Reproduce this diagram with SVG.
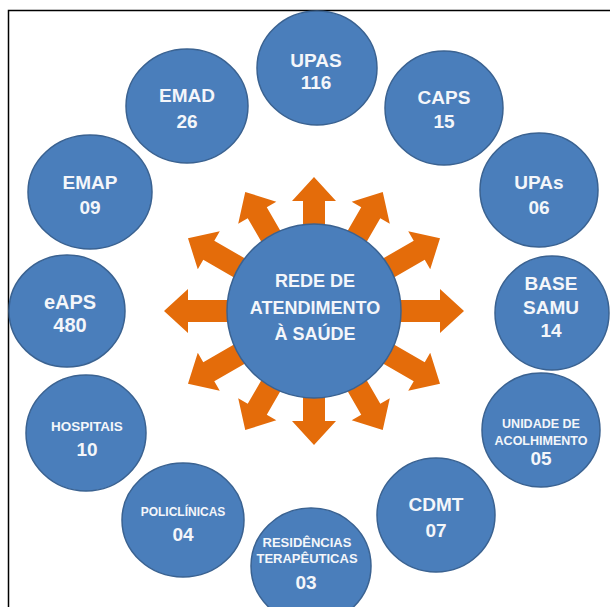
<svg xmlns="http://www.w3.org/2000/svg" xmlns:xlink="http://www.w3.org/1999/xlink" width="610" height="607" viewBox="0 0 610 607">
<style>
.bg{fill:#ffffff}
.frame{fill:none;stroke:#000;stroke-width:1.5}
.node{fill:#4A7EBB;stroke:#3A6291;stroke-width:1.5}
.arrow{fill:#E46C0A}
text{font-family:"Liberation Sans",Arial,sans-serif;font-weight:bold;fill:#F4F6FA;text-anchor:middle}
.big{font-size:19px}
.sm{font-size:12.5px}
.ctr{font-size:18px}
</style>
<defs>
<polygon id="a0" points="0,-11 126,-11 126,-22 150,0 126,22 126,11 0,11"/>
<polygon id="a30" points="0,-11 121.5,-11 121.5,-22 145.5,0 121.5,22 121.5,11 0,11"/>
<polygon id="a60" points="0,-11 113.5,-11 113.5,-22 137.5,0 113.5,22 113.5,11 0,11"/>
<polygon id="a90" points="0,-11 110,-11 110,-22 134,0 110,22 110,11 0,11"/>
</defs>
<rect class="bg" x="0" y="0" width="610" height="607"/>
<rect class="frame" x="8.5" y="10.5" width="610" height="610"/>

<g id="connectors" class="arrow" transform="translate(314 311)">
<use xlink:href="#a0" transform="rotate(0)"/>
<use xlink:href="#a30" transform="rotate(-30)"/>
<use xlink:href="#a60" transform="rotate(-60)"/>
<use xlink:href="#a90" transform="rotate(-90)"/>
<use xlink:href="#a60" transform="rotate(-120)"/>
<use xlink:href="#a30" transform="rotate(-150)"/>
<use xlink:href="#a0" transform="rotate(180)"/>
<use xlink:href="#a30" transform="rotate(150)"/>
<use xlink:href="#a60" transform="rotate(120)"/>
<use xlink:href="#a90" transform="rotate(90)"/>
<use xlink:href="#a60" transform="rotate(60)"/>
<use xlink:href="#a30" transform="rotate(30)"/>
</g>

<g id="center">
<circle class="node" cx="314" cy="311" r="87"/>
<text class="ctr" x="315" y="287">REDE DE</text>
<text class="ctr" x="315" y="314">ATENDIMENTO</text>
<text class="ctr" x="315" y="340">À SAÚDE</text>
</g>

<g id="upas">
<ellipse class="node" cx="317" cy="68" rx="60" ry="57"/>
<text class="big" x="316" y="67">UPAS</text>
<text class="big" x="316" y="89">116</text>
</g>

<g id="caps">
<ellipse class="node" cx="444" cy="108" rx="59" ry="57"/>
<text class="big" x="444" y="104">CAPS</text>
<text class="big" x="444" y="128">15</text>
</g>

<g id="upas2">
<ellipse class="node" cx="539" cy="190" rx="59" ry="57"/>
<text class="big" x="539" y="189">UPAs</text>
<text class="big" x="539" y="214">06</text>
</g>

<g id="base-samu">
<ellipse class="node" cx="552" cy="313" rx="57" ry="57"/>
<text class="big" x="551" y="290">BASE</text>
<text class="big" x="551" y="314">SAMU</text>
<text class="big" x="551" y="337">14</text>
</g>

<g id="unidade-acolhimento">
<ellipse class="node" cx="541" cy="430" rx="59" ry="57"/>
<text class="sm" x="541" y="427.5">UNIDADE DE</text>
<text class="sm" x="541" y="444.5">ACOLHIMENTO</text>
<text class="big" x="541" y="465">05</text>
</g>

<g id="cdmt">
<ellipse class="node" cx="436" cy="515" rx="59" ry="57"/>
<text class="big" x="436" y="511">CDMT</text>
<text class="big" x="436" y="537">07</text>
</g>

<g id="residencias">
<ellipse class="node" cx="311" cy="566" rx="60" ry="58"/>
<text class="sm" x="307" y="547" style="font-size:13px">RESIDÊNCIAS</text>
<text class="sm" x="307" y="563" style="font-size:13px">TERAPÊUTICAS</text>
<text class="big" x="306" y="589">03</text>
</g>

<g id="policlinicas">
<ellipse class="node" cx="183" cy="520" rx="61" ry="57"/>
<text class="sm" x="183" y="516" style="font-size:12px">POLICLÍNICAS</text>
<text class="big" x="183" y="541">04</text>
</g>

<g id="hospitais">
<ellipse class="node" cx="86" cy="433" rx="60" ry="58"/>
<text class="sm" x="87" y="431" style="font-size:13.5px">HOSPITAIS</text>
<text class="big" x="87" y="456">10</text>
</g>

<g id="eaps">
<ellipse class="node" cx="67" cy="311" rx="58" ry="56"/>
<text class="big" x="70" y="309" style="font-size:20px">eAPS</text>
<text class="big" x="70" y="332" style="font-size:20px">480</text>
</g>

<g id="emap">
<ellipse class="node" cx="90" cy="192" rx="62" ry="57"/>
<text class="big" x="90" y="189">EMAP</text>
<text class="big" x="90" y="214">09</text>
</g>

<g id="emad">
<ellipse class="node" cx="187" cy="106" rx="61" ry="57"/>
<text class="big" x="187" y="102">EMAD</text>
<text class="big" x="187" y="128">26</text>
</g>
</svg>
